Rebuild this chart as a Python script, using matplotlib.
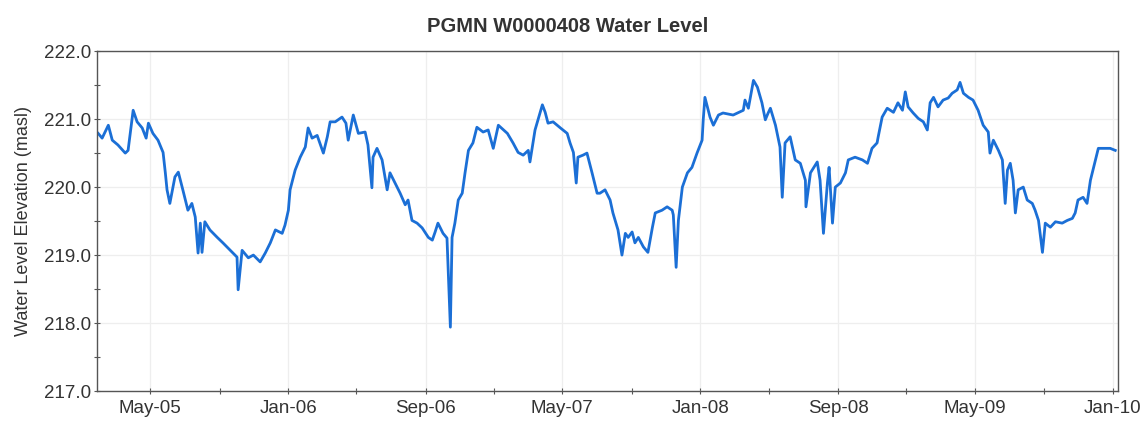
"""
Water level hydrograph for PGMN well W0000408 (2005-2010).
Writes out.png.
"""

import matplotlib
matplotlib.use("Agg")
import matplotlib.pyplot as plt
import matplotlib.dates as mdates
import matplotlib.ticker as mticker
import pandas as pd

# ---------------------------------------------------------------------------
# Data (read off the reference hydrograph)
# ---------------------------------------------------------------------------
DATES = [
    "2005-01-29", "2005-02-05", "2005-02-16", "2005-02-23", "2005-03-05", "2005-03-18",
    "2005-03-23", "2005-04-01", "2005-04-08", "2005-04-17", "2005-04-24", "2005-04-28",
    "2005-05-06", "2005-05-15", "2005-05-24", "2005-05-28", "2005-05-31", "2005-06-05",
    "2005-06-14", "2005-06-20", "2005-06-28", "2005-07-07", "2005-07-14", "2005-07-20",
    "2005-07-25", "2005-07-29", "2005-08-01", "2005-08-06", "2005-08-15", "2005-08-28",
    "2005-09-07", "2005-09-20", "2005-10-02", "2005-10-04", "2005-10-11", "2005-10-22",
    "2005-10-31", "2005-11-12", "2005-11-21", "2005-11-30", "2005-12-09", "2005-12-21",
    "2005-12-26", "2006-01-01", "2006-01-04", "2006-01-13", "2006-01-22", "2006-01-31",
    "2006-02-05", "2006-02-12", "2006-02-21", "2006-03-04", "2006-03-11", "2006-03-16",
    "2006-03-25", "2006-04-06", "2006-04-13", "2006-04-17", "2006-04-26", "2006-05-05",
    "2006-05-17", "2006-05-22", "2006-05-29", "2006-05-31", "2006-06-07", "2006-06-16",
    "2006-06-25", "2006-06-30", "2006-07-09", "2006-07-18", "2006-07-27", "2006-08-01",
    "2006-08-08", "2006-08-17", "2006-08-26", "2006-09-06", "2006-09-13", "2006-09-18",
    "2006-09-23", "2006-10-02", "2006-10-09", "2006-10-15", "2006-10-18", "2006-10-23",
    "2006-10-29", "2006-11-05", "2006-11-10", "2006-11-16", "2006-11-24", "2006-12-01",
    "2006-12-12", "2006-12-21", "2006-12-30", "2007-01-08", "2007-01-24", "2007-02-03",
    "2007-02-12", "2007-02-21", "2007-03-02", "2007-03-05", "2007-03-14", "2007-03-27",
    "2007-04-01", "2007-04-06", "2007-04-15", "2007-04-28", "2007-05-10", "2007-05-15",
    "2007-05-21", "2007-05-26", "2007-05-29", "2007-06-07", "2007-06-14", "2007-06-23",
    "2007-07-02", "2007-07-07", "2007-07-16", "2007-07-25", "2007-07-30", "2007-08-08",
    "2007-08-15", "2007-08-21", "2007-08-26", "2007-09-02", "2007-09-07", "2007-09-13",
    "2007-09-22", "2007-09-30", "2007-10-08", "2007-10-13", "2007-10-25", "2007-11-03",
    "2007-11-12", "2007-11-14", "2007-11-19", "2007-11-23", "2007-11-30", "2007-12-09",
    "2007-12-17", "2007-12-26", "2008-01-04", "2008-01-06", "2008-01-09", "2008-01-18",
    "2008-01-24", "2008-02-02", "2008-02-10", "2008-02-28", "2008-03-17", "2008-03-20",
    "2008-03-26", "2008-04-04", "2008-04-11", "2008-04-19", "2008-04-25", "2008-04-30",
    "2008-05-04", "2008-05-13", "2008-05-21", "2008-05-25", "2008-05-30", "2008-06-08",
    "2008-06-17", "2008-06-26", "2008-07-05", "2008-07-06", "2008-07-14", "2008-07-26",
    "2008-07-31", "2008-08-06", "2008-08-13", "2008-08-16", "2008-08-22", "2008-08-27",
    "2008-09-05", "2008-09-14", "2008-09-19", "2008-10-01", "2008-10-14", "2008-10-23",
    "2008-10-31", "2008-11-09", "2008-11-11", "2008-11-18", "2008-11-27", "2008-12-08",
    "2008-12-16", "2008-12-24", "2008-12-29", "2009-01-03", "2009-01-12", "2009-01-21",
    "2009-01-30", "2009-02-06", "2009-02-11", "2009-02-17", "2009-02-25", "2009-03-06",
    "2009-03-15", "2009-03-22", "2009-03-31", "2009-04-05", "2009-04-11", "2009-04-20",
    "2009-04-28", "2009-05-07", "2009-05-16", "2009-05-25", "2009-05-28", "2009-06-03",
    "2009-06-12", "2009-06-19", "2009-06-24", "2009-06-28", "2009-07-03", "2009-07-08",
    "2009-07-12", "2009-07-17", "2009-07-26", "2009-08-02", "2009-08-11", "2009-08-16",
    "2009-08-22", "2009-08-29", "2009-09-03", "2009-09-12", "2009-09-21", "2009-10-03",
    "2009-10-12", "2009-10-21", "2009-10-26", "2009-10-31", "2009-11-09", "2009-11-16",
    "2009-11-22", "2009-12-01", "2009-12-06", "2009-12-15", "2009-12-27", "2010-01-05",
]

LEVELS = [
    220.79, 220.72, 220.91, 220.69, 220.62, 220.50,
    220.54, 221.13, 220.96, 220.87, 220.72, 220.94,
    220.79, 220.69, 220.51, 220.21, 219.96, 219.76,
    220.15, 220.22, 219.96, 219.66, 219.76, 219.56,
    219.03, 219.47, 219.04, 219.49, 219.37, 219.26,
    219.18, 219.07, 218.97, 218.49, 219.07, 218.96,
    219.00, 218.90, 219.03, 219.18, 219.37, 219.32,
    219.44, 219.66, 219.96, 220.25, 220.44, 220.59,
    220.87, 220.72, 220.76, 220.50, 220.74, 220.96,
    220.96, 221.03, 220.94, 220.69, 221.06, 220.79,
    220.81, 220.62, 219.99, 220.44, 220.57, 220.40,
    219.96, 220.21, 220.06, 219.91, 219.74, 219.81,
    219.51, 219.47, 219.40, 219.26, 219.22, 219.34,
    219.47, 219.32, 219.25, 217.94, 219.26, 219.47,
    219.81, 219.91, 220.21, 220.54, 220.65, 220.88,
    220.81, 220.84, 220.57, 220.91, 220.79, 220.65,
    220.51, 220.47, 220.54, 220.37, 220.84, 221.21,
    221.10, 220.94, 220.96, 220.87, 220.79, 220.65,
    220.51, 220.06, 220.44, 220.47, 220.50, 220.21,
    219.91, 219.91, 219.96, 219.81, 219.62, 219.37,
    219.00, 219.32, 219.26, 219.34, 219.18, 219.26,
    219.12, 219.04, 219.41, 219.62, 219.66, 219.71,
    219.66, 219.59, 218.82, 219.51, 220.00, 220.21,
    220.29, 220.50, 220.69, 220.99, 221.32, 221.03,
    220.91, 221.06, 221.09, 221.06, 221.13, 221.28,
    221.16, 221.57, 221.47, 221.24, 220.99, 221.09,
    221.16, 220.91, 220.59, 219.85, 220.65, 220.74,
    220.40, 220.35, 220.10, 219.71, 220.21, 220.37,
    220.10, 219.32, 220.06, 220.29, 219.47, 220.00,
    220.06, 220.21, 220.40, 220.44, 220.40, 220.35,
    220.57, 220.65, 220.74, 221.03, 221.16, 221.10,
    221.24, 221.13, 221.40, 221.18, 221.09, 221.01,
    220.96, 220.84, 221.24, 221.32, 221.18, 221.28,
    221.31, 221.38, 221.43, 221.54, 221.38, 221.32,
    221.28, 221.13, 220.91, 220.81, 220.50, 220.69,
    220.54, 220.40, 219.76, 220.25, 220.35, 220.10,
    219.62, 219.96, 220.00, 219.81, 219.76, 219.66,
    219.51, 219.04, 219.47, 219.41, 219.49, 219.47,
    219.51, 219.54, 219.62, 219.81, 219.85, 219.76,
    220.10, 220.40, 220.57, 220.57, 220.57, 220.54,
]

LABEL_TICKS = ["2005-05-01", "2006-01-01", "2006-09-01", "2007-05-01",
               "2008-01-01", "2008-09-01", "2009-05-01", "2010-01-01"]
MINOR_TICKS = ["2005-09-01", "2006-05-01", "2007-01-01", "2007-09-01",
               "2008-05-01", "2008-12-31", "2009-09-01"]
X_RANGE = ("2005-01-27", "2010-01-10")
Y_RANGE = (217.0, 222.0)

TITLE  = "PGMN W0000408 Water Level"
YLABEL = "Water Level Elevation (masl)"

LINE_COLOR = "#1b6fd6"
AXIS_COLOR = "#555555"
TEXT_COLOR = "#333333"

# ---------------------------------------------------------------------------
# Plot
# ---------------------------------------------------------------------------
plt.rcParams["font.family"] = ["Liberation Sans", "DejaVu Sans"]

dates = pd.to_datetime(DATES)

fig = plt.figure(figsize=(11.43, 4.26), dpi=100)
ax = fig.add_axes([0.0849, 0.082, 0.8933, 0.798])

ax.plot(dates, LEVELS, color=LINE_COLOR, lw=2.0)

ax.set_xlim(pd.to_datetime(X_RANGE[0]), pd.to_datetime(X_RANGE[1]))
ax.set_ylim(*Y_RANGE)

ax.xaxis.set_major_locator(mticker.FixedLocator(mdates.date2num(pd.to_datetime(LABEL_TICKS))))
ax.xaxis.set_minor_locator(mticker.FixedLocator(mdates.date2num(pd.to_datetime(MINOR_TICKS))))
ax.xaxis.set_major_formatter(mdates.DateFormatter("%b-%y"))

ax.yaxis.set_major_locator(mticker.MultipleLocator(1.0))
ax.yaxis.set_minor_locator(mticker.MultipleLocator(0.5))
ax.yaxis.set_major_formatter(mticker.FormatStrFormatter("%.1f"))

ax.grid(True, which="major", color="#eeeeee", lw=0.9)
ax.set_axisbelow(True)

for s in ax.spines.values():
    s.set_color(AXIS_COLOR)
    s.set_linewidth(1.0)

ax.tick_params(which="major", direction="inout", length=5, width=0.8,
               colors=AXIS_COLOR, labelcolor=TEXT_COLOR, labelsize=13.5, pad=4)
ax.tick_params(axis="y", which="major", pad=2)
ax.tick_params(which="minor", direction="inout", length=4, width=0.8, colors=AXIS_COLOR)

# title is centred on the figure, not on the axes
fig.text(0.497, 0.937, TITLE, fontsize=14.5, fontweight="bold", color=TEXT_COLOR,
         ha="center", va="center")
ax.set_ylabel(YLABEL, fontsize=13, color=TEXT_COLOR, labelpad=8)

fig.savefig("out.png", dpi=100)
